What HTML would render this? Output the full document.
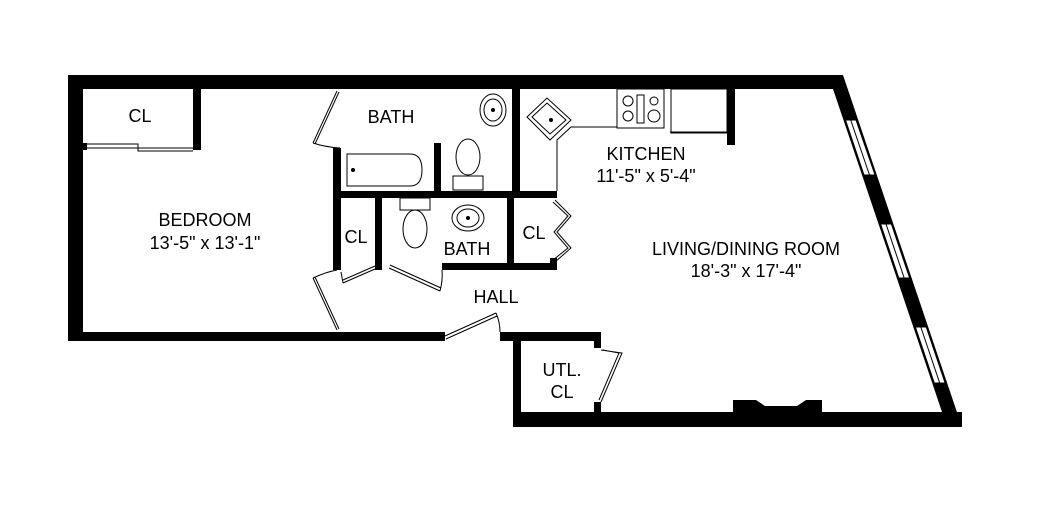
<!DOCTYPE html>
<html><head><meta charset="utf-8"><style>
html,body{margin:0;padding:0;background:#fff}
svg{display:block}
text{font-family:"Liberation Sans",Arial,sans-serif;font-size:18px;fill:#000;text-anchor:middle}
</style></head><body>
<svg width="1054" height="519" viewBox="0 0 1054 519" xmlns="http://www.w3.org/2000/svg">
<g fill="#000">
<rect x="68" y="75" width="775" height="14"/>
<rect x="68" y="75" width="15" height="266"/>
<rect x="68" y="332" width="377" height="9"/>
<rect x="500" y="332" width="101" height="9"/>
<rect x="513" y="332" width="8" height="95"/>
<rect x="513" y="412" width="449" height="15"/>
<polygon points="843,75 962,427 942,427 942,412 833,89 833,75"/>
<polygon points="733,400 756,400 765,406 797,406 806,400 822,400 822,412 733,412"/>
<rect x="594" y="333" width="7" height="15"/>
<rect x="594" y="402" width="7" height="10"/>
<rect x="193" y="89" width="8" height="61"/>
<rect x="83" y="143" width="4" height="7"/>
<rect x="333" y="148" width="8" height="122"/>
<rect x="333" y="191" width="224" height="7"/>
<rect x="434" y="143" width="7" height="48"/>
<rect x="512" y="89" width="8" height="102"/>
<rect x="375" y="198" width="7" height="72"/>
<rect x="507" y="198" width="7" height="65"/>
<rect x="442" y="263" width="115" height="7"/>
<rect x="550" y="191" width="7" height="7"/>
<rect x="550" y="258" width="7" height="12"/>
<rect x="727" y="89" width="8" height="56"/>
</g>
<g fill="#fff" stroke="#000" stroke-width="1">
<polygon points="845.5,120 856,120 875,175 864,175"/>
<polygon points="880.6,224 891.4,224 909.6,278 898.8,278"/>
<polygon points="915.4,327 926.2,327 945.1,383 934.3,383"/>
<line x1="850.7" y1="120" x2="869.5" y2="175"/>
<line x1="886" y1="224" x2="904.2" y2="278"/>
<line x1="920.8" y1="327" x2="939.7" y2="383"/>
</g>
<g fill="none" stroke="#000" stroke-width="1">
<path d="M87,144 H138 V148 H193 M87,148 H138 V151 H193"/>
<path d="M337,91 L313,143 M339,92 L315,144"/>
<path d="M313,143 Q325,147 340,148"/>
<path d="M313,278 L337,330 M315,277 L339,329"/>
<path d="M313,278 Q326,272 337,270"/>
<path d="M343,283 L375,269 M343,280 L375,266"/>
<path d="M343,283 L341,272"/>
<path d="M389,268 L440,291 M390,265 L441,288"/>
<path d="M440,291 Q443,280 442,270"/>
<path d="M445,336 L496,313 M446,339 L497,316"/>
<path d="M496,313 Q500,322 500,332"/>
<path d="M601,350 L622,353 L601,402 M603,350 L619,353 L599,400"/>
<path d="M555,200 L571,216 L557,232 L571,248 L555,262 M553,202 L568,216 L554,232 L568,248 L553,260"/>
<path d="M347,154 H410 Q422,154 422,170 Q422,186 410,186 H347 Z"/>
<ellipse cx="468" cy="157" rx="12" ry="18"/>
<rect x="453" y="176" width="30" height="14"/>
<ellipse cx="415" cy="229" rx="12" ry="19"/>
<rect x="400" y="198" width="30" height="12"/>
<ellipse cx="493" cy="110" rx="13" ry="16"/>
<ellipse cx="493" cy="110" rx="9" ry="11"/>
<ellipse cx="468" cy="218" rx="16" ry="13"/>
<ellipse cx="468" cy="218" rx="11" ry="9"/>
<polygon points="527,117 547,98 571,120 550,140"/>
<polygon points="532,117 547,103 566,120 550,134"/>
<path d="M571,127 H617 M670,132 H727 M571,127 L557,140 V191"/>
<rect x="617" y="89" width="47" height="39"/>
<rect x="671" y="89" width="56" height="44"/>
<circle cx="628" cy="101" r="5"/><circle cx="628" cy="116" r="5"/>
<circle cx="654" cy="101" r="4"/><circle cx="654" cy="116" r="6"/>
<rect x="637" y="95" width="7" height="28"/>
</g>
<g fill="#000">
<circle cx="353" cy="170" r="2"/><circle cx="493" cy="110" r="2"/><circle cx="468" cy="218" r="2"/><circle cx="551" cy="120" r="2"/>
</g>
<text x="140" y="122">CL</text>
<text x="391" y="123">BATH</text>
<text x="205" y="226">BEDROOM</text>
<text x="205" y="249">13'-5" x 13'-1"</text>
<text x="646" y="160">KITCHEN</text>
<text x="646" y="182">11'-5" x 5'-4"</text>
<text x="356" y="243">CL</text>
<text x="467" y="255">BATH</text>
<text x="534" y="239">CL</text>
<text x="496" y="303">HALL</text>
<text x="746" y="255">LIVING/DINING ROOM</text>
<text x="746" y="277">18'-3" x 17'-4"</text>
<text x="562" y="376">UTL.</text>
<text x="562" y="398">CL</text>
</svg>
</body></html>
